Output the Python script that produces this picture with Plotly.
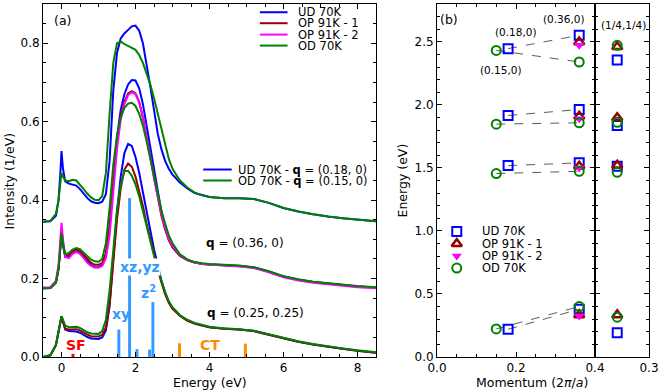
import plotly.graph_objects as go

FONT = "DejaVu Sans"
C_UD, C_OP1, C_OP2, C_OD = "#0000ff", "#990000", "#ff00ff", "#008000"
C_DD, C_SF, C_CT = "#3399ff", "#ff0000", "#ff8c00"

# ---- panel (a): RIXS spectra ----
energy = [-0.5, -0.3, -0.15, -0.08, -0.03, 0.0, 0.04, 0.1, 0.2, 0.3,
          0.4, 0.5, 0.6, 0.7, 0.8, 0.9, 1.0, 1.1, 1.2, 1.3,
          1.4, 1.5, 1.6, 1.7, 1.8, 1.9, 2.0, 2.1, 2.2, 2.3,
          2.4, 2.5, 2.6, 2.7, 2.8, 2.9, 3.0, 3.2, 3.4, 3.6,
          3.8, 4.0, 4.4, 4.8, 5.2, 5.6, 6.0, 6.4, 6.8, 7.2,
          7.6, 8.0, 8.5]

# q = (0.18,0) / (0.15,0)
top_ud = [0.345, 0.346, 0.36, 0.40, 0.47, 0.525, 0.48, 0.448, 0.442, 0.44,
          0.437, 0.428, 0.416, 0.405, 0.397, 0.393, 0.392, 0.396, 0.415, 0.50,
          0.68, 0.775, 0.812, 0.825, 0.834, 0.843, 0.845, 0.832, 0.80, 0.75,
          0.69, 0.63, 0.57, 0.53, 0.50, 0.48, 0.465, 0.445, 0.43, 0.418,
          0.412, 0.408, 0.405, 0.405, 0.403, 0.393, 0.38, 0.371, 0.364, 0.358,
          0.354, 0.35, 0.346]
top_od = [0.345, 0.347, 0.365, 0.40, 0.445, 0.469, 0.46, 0.45, 0.448, 0.452,
          0.45, 0.44, 0.428, 0.416, 0.407, 0.401, 0.40, 0.41, 0.47, 0.62,
          0.75, 0.80, 0.804, 0.798, 0.792, 0.788, 0.783, 0.77, 0.75, 0.725,
          0.695, 0.66, 0.62, 0.58, 0.54, 0.505, 0.48, 0.45, 0.432, 0.419,
          0.412, 0.408, 0.405, 0.405, 0.403, 0.393, 0.38, 0.371, 0.364, 0.358,
          0.354, 0.35, 0.346]

# q = (0.36,0)
mid_ud = [0.175, 0.176, 0.19, 0.225, 0.28, 0.32, 0.285, 0.255, 0.255, 0.265,
          0.27, 0.265, 0.255, 0.243, 0.234, 0.229, 0.229, 0.235, 0.26, 0.33,
          0.45, 0.56, 0.63, 0.67, 0.695, 0.706, 0.705, 0.685, 0.645, 0.59,
          0.53, 0.47, 0.415, 0.37, 0.33, 0.30, 0.28, 0.258, 0.247, 0.241,
          0.238, 0.236, 0.234, 0.232, 0.228, 0.218, 0.205, 0.197, 0.191, 0.187,
          0.184, 0.18, 0.177]
mid_op1 = [0.175, 0.176, 0.19, 0.225, 0.28, 0.323, 0.29, 0.258, 0.26, 0.27,
           0.274, 0.27, 0.26, 0.249, 0.24, 0.235, 0.235, 0.24, 0.265, 0.335,
           0.45, 0.55, 0.615, 0.65, 0.672, 0.678, 0.672, 0.65, 0.61, 0.56,
           0.505, 0.45, 0.40, 0.36, 0.325, 0.298, 0.28, 0.258, 0.247, 0.241,
           0.238, 0.236, 0.234, 0.232, 0.228, 0.218, 0.205, 0.197, 0.191, 0.187,
           0.184, 0.18, 0.177]
mid_op2 = [0.177, 0.178, 0.195, 0.235, 0.30, 0.342, 0.30, 0.255, 0.252, 0.263,
           0.268, 0.263, 0.252, 0.24, 0.232, 0.228, 0.228, 0.232, 0.252, 0.31,
           0.42, 0.53, 0.605, 0.645, 0.668, 0.675, 0.67, 0.65, 0.612, 0.565,
           0.51, 0.455, 0.405, 0.365, 0.33, 0.302, 0.283, 0.26, 0.248, 0.241,
           0.237, 0.235, 0.233, 0.231, 0.227, 0.216, 0.203, 0.195, 0.189, 0.185,
           0.182, 0.178, 0.175]
mid_od = [0.175, 0.176, 0.19, 0.225, 0.28, 0.316, 0.29, 0.262, 0.265, 0.274,
          0.278, 0.275, 0.266, 0.256, 0.248, 0.244, 0.243, 0.25, 0.29, 0.38,
          0.49, 0.565, 0.61, 0.635, 0.646, 0.648, 0.64, 0.62, 0.59, 0.55,
          0.505, 0.46, 0.415, 0.375, 0.34, 0.31, 0.29, 0.262, 0.249, 0.242,
          0.239, 0.237, 0.235, 0.233, 0.229, 0.219, 0.206, 0.198, 0.192, 0.188,
          0.185, 0.181, 0.178]

# q = (0.25,0.25)
bot_ud = [0.0, 0.004, 0.03, 0.065, 0.092, 0.103, 0.09, 0.07, 0.066, 0.066,
          0.065, 0.062, 0.056, 0.051, 0.047, 0.046, 0.046, 0.05, 0.068, 0.13,
          0.25, 0.37, 0.46, 0.52, 0.543, 0.538, 0.51, 0.47, 0.42, 0.37,
          0.32, 0.275, 0.235, 0.195, 0.165, 0.14, 0.125, 0.105, 0.093, 0.085,
          0.08, 0.076, 0.072, 0.07, 0.066, 0.057, 0.047, 0.039, 0.032, 0.026,
          0.021, 0.016, 0.011]
bot_op1 = [0.0, 0.004, 0.03, 0.065, 0.093, 0.104, 0.09, 0.072, 0.07, 0.071,
           0.071, 0.068, 0.062, 0.057, 0.053, 0.052, 0.052, 0.057, 0.075, 0.135,
           0.245, 0.35, 0.43, 0.478, 0.493, 0.485, 0.46, 0.425, 0.385, 0.34,
           0.30, 0.26, 0.225, 0.19, 0.16, 0.138, 0.123, 0.105, 0.093, 0.085,
           0.08, 0.076, 0.072, 0.07, 0.066, 0.057, 0.047, 0.039, 0.032, 0.026,
           0.021, 0.016, 0.011]
bot_od = [0.0, 0.005, 0.032, 0.068, 0.094, 0.104, 0.095, 0.08, 0.076, 0.077,
          0.077, 0.074, 0.068, 0.063, 0.06, 0.059, 0.059, 0.066, 0.095, 0.17,
          0.28, 0.375, 0.44, 0.474, 0.475, 0.462, 0.44, 0.41, 0.372, 0.333,
          0.295, 0.258, 0.225, 0.192, 0.165, 0.142, 0.127, 0.107, 0.095, 0.087,
          0.081, 0.077, 0.073, 0.071, 0.067, 0.058, 0.048, 0.04, 0.033, 0.027,
          0.022, 0.017, 0.012]

# calculated excitations (sticks)
dd_energy = [1.55, 1.84, 2.04, 2.38, 2.47]
dd_height = [0.07, 0.405, 0.02, 0.019, 0.14]
sf_energy = [0.31]
sf_height = [0.008]
ct_energy = [3.19, 4.97]
ct_height = [0.035, 0.034]

# ---- panel (b): peak energies (eV), four features each ----
q_ud = [0.18, 0.36]
q_od = [0.15, 0.36]
q_op = 0.36
q_diag = 0.25
ud_a = [0.22, 1.518, 1.916, 2.446]    # UD at (0.18,0)
ud_b = [0.379, 1.54, 1.963, 2.552]    # UD at (0.36,0)
op1_b = [0.334, 1.513, 1.91, 2.498]
op2_b = [0.326, 1.50, 1.889, 2.472]
od_a = [0.223, 1.455, 1.847, 2.432]   # OD at (0.15,0)
od_b = [0.40, 1.473, 1.858, 2.34]
ud_d = [0.193, 1.513, 1.836, 2.355]   # (1/4,1/4)
op1_d = [0.334, 1.52, 1.897, 2.46]
od_d = [0.316, 1.465, 1.862, 2.472]

fig = go.Figure()

# sticks
for xs, hs, col in [(dd_energy, dd_height, C_DD), (sf_energy, sf_height, C_SF),
                    (ct_energy, ct_height, C_CT)]:
    fig.add_trace(go.Bar(x=xs, y=hs, width=0.08, marker_color=col,
                         marker_line_width=0, showlegend=False,
                         xaxis="x", yaxis="y"))

spectra = [(top_ud, C_UD), (top_od, C_OD),
           (mid_ud, C_UD), (mid_op1, C_OP1), (mid_op2, C_OP2), (mid_od, C_OD),
           (bot_ud, C_UD), (bot_op1, C_OP1), (bot_od, C_OD)]
for ys, col in spectra:
    fig.add_trace(go.Scatter(x=energy, y=ys, mode="lines",
                             line=dict(color=col, width=2),
                             showlegend=False, xaxis="x", yaxis="y"))

# dashed guides in (b)
dash_line = dict(color="#333333", width=0.8, dash="dash")
for i in range(4):
    fig.add_trace(go.Scatter(x=q_ud, y=[ud_a[i], ud_b[i]], mode="lines",
                             line=dash_line, showlegend=False,
                             xaxis="x2", yaxis="y2"))
    fig.add_trace(go.Scatter(x=q_od, y=[od_a[i], od_b[i]], mode="lines",
                             line=dash_line, showlegend=False,
                             xaxis="x2", yaxis="y2"))

m_ud = dict(symbol="square-open", size=9, color=C_UD, line=dict(width=2))
m_op1 = dict(symbol="triangle-up-open", size=9, color=C_OP1, line=dict(width=2.5))
m_op2 = dict(symbol="triangle-down", size=9, color=C_OP2)
m_od = dict(symbol="circle-open", size=9, color=C_OD, line=dict(width=2))

fig.add_trace(go.Scatter(x=[q_ud[0]] * 4 + [q_ud[1]] * 4, y=ud_a + ud_b,
                         mode="markers", marker=m_ud, showlegend=False,
                         xaxis="x2", yaxis="y2"))
fig.add_trace(go.Scatter(x=[q_op] * 4, y=op1_b, mode="markers", marker=m_op1,
                         showlegend=False, xaxis="x2", yaxis="y2"))
fig.add_trace(go.Scatter(x=[q_op] * 4, y=op2_b, mode="markers", marker=m_op2,
                         showlegend=False, xaxis="x2", yaxis="y2"))
fig.add_trace(go.Scatter(x=[q_od[0]] * 4 + [q_od[1]] * 4, y=od_a + od_b,
                         mode="markers", marker=m_od, showlegend=False,
                         xaxis="x2", yaxis="y2"))
for ys, mk in [(ud_d, m_ud), (op1_d, m_op1), (od_d, m_od)]:
    fig.add_trace(go.Scatter(x=[q_diag] * 4, y=ys, mode="markers", marker=mk,
                             showlegend=False, xaxis="x3", yaxis="y3"))

# hand-made legend for (b)
leg_b_y = [0.996, 0.899, 0.802, 0.705]
leg_b_names = ["UD 70K", "OP 91K - 1", "OP 91K - 2", "OD 70K"]
for yy, mk, name in zip(leg_b_y, [m_ud, m_op1, m_op2, m_od], leg_b_names):
    fig.add_trace(go.Scatter(x=[0.05], y=[yy], mode="markers", marker=mk,
                             showlegend=False, xaxis="x2", yaxis="y2"))
    fig.add_annotation(x=0.108, y=yy, xref="x2", yref="y2", text=name,
                       showarrow=False, xanchor="left", font=dict(size=11.5))

# hand-made legends for (a)
shapes = []
leg_top_y = [0.879, 0.851, 0.822, 0.794]
for yy, col, name in zip(leg_top_y, [C_UD, C_OP1, C_OP2, C_OD], leg_b_names):
    shapes.append(dict(type="line", xref="x", yref="y", x0=5.36, x1=6.11,
                       y0=yy, y1=yy, line=dict(color=col, width=2)))
    fig.add_annotation(x=6.35, y=yy, xref="x", yref="y", text=name,
                       showarrow=False, xanchor="left", font=dict(size=11.5))
leg_mid = [(0.478, C_UD, "UD 70K - <b>q</b> = (0.18, 0)"),
           (0.450, C_OD, "OD 70K - <b>q</b> = (0.15, 0)")]
for yy, col, name in leg_mid:
    shapes.append(dict(type="line", xref="x", yref="y", x0=3.83, x1=4.6,
                       y0=yy, y1=yy, line=dict(color=col, width=2)))
    fig.add_annotation(x=4.71, y=yy, xref="x", yref="y", text=name,
                       showarrow=False, xanchor="left", font=dict(size=11.5))

# labels in (a)
fig.add_annotation(x=0.03, y=0.857, xref="x", yref="y", text="(a)",
                   showarrow=False, font=dict(size=12.5))
fig.add_annotation(x=6.08, y=0.29, xref="x", yref="y", text="<b>q</b> = (0.36, 0)",
                   showarrow=False, xanchor="right", font=dict(size=12))
fig.add_annotation(x=6.62, y=0.112, xref="x", yref="y",
                   text="<b>q</b> = (0.25, 0.25)",
                   showarrow=False, xanchor="right", font=dict(size=12))
for txt, xx, yy, col, bg in [("xy", 1.6, 0.109, C_DD, "rgba(0,0,0,0)"),
                             ("xz,yz", 2.11, 0.23, C_DD, "white"),
                             ("z<sup>2</sup>", 2.36, 0.165, C_DD, "rgba(0,0,0,0)"),
                             ("SF", 0.4, 0.03, C_SF, "rgba(0,0,0,0)"),
                             ("CT", 4.0, 0.03, C_CT, "rgba(0,0,0,0)")]:
    fig.add_annotation(x=xx, y=yy, xref="x", yref="y", text=f"<b>{txt}</b>",
                       showarrow=False, bgcolor=bg, borderpad=0,
                       font=dict(size=14, color=col))

# labels in (b)
for txt, xx, yy, xr in [("(b)", 0.03, 2.68, "x2"), ("(0.18,0)", 0.2, 2.58, "x2"),
                        ("(0.36,0)", 0.322, 2.68, "x2"),
                        ("(0.15,0)", 0.163, 2.276, "x2"),
                        ("(1/4,1/4)", 0.2606, 2.63, "x3")]:
    fig.add_annotation(x=xx, y=yy, xref=xr, yref="y2", text=txt, showarrow=False,
                       font=dict(size=12.5 if txt == "(b)" else 10.5))

# axis titles
for txt, xx, yy, ang in [("Energy (eV)", 0.2748, -0.071, 0),
                         ("Momentum (2<i>π</i>/<i>a</i>)", 0.807, -0.071, 0),
                         ("Intensity (1/eV)", -0.0545, 0.5, -90),
                         ("Energy (eV)", 0.594, 0.5, -90)]:
    fig.add_annotation(x=xx, y=yy, xref="paper", yref="paper", text=txt,
                       xanchor="center", yanchor="middle",
                       showarrow=False, textangle=ang, font=dict(size=12.5))

ax = dict(showline=True, linecolor="black", linewidth=1, mirror="allticks",
          ticks="inside", ticklen=5, tickcolor="black", showgrid=False,
          zeroline=False, tickfont=dict(size=12, color="black"))

fig.update_layout(
    width=664, height=392,
    margin=dict(l=43, r=15, t=4, b=35),
    paper_bgcolor="white", plot_bgcolor="white",
    font=dict(family=FONT, color="black"),
    showlegend=False, barmode="overlay",
    shapes=shapes,
    xaxis=dict(ax, domain=[0, 0.5495], range=[-0.5, 8.5], tick0=0, dtick=2,
               minor=dict(tick0=0, dtick=0.5, ticks="inside", ticklen=3,
                          tickcolor="black"), anchor="y"),
    yaxis=dict(ax, domain=[0, 1], range=[0, 0.9], tick0=0, dtick=0.2,
               tickformat=".1f",
               minor=dict(tick0=0, dtick=0.05, ticks="inside", ticklen=3,
                          tickcolor="black"), anchor="x"),
    xaxis2=dict(ax, domain=[0.6502, 0.9109], range=[0, 0.4], tick0=0, dtick=0.2,
                tickformat=".1f",
                minor=dict(tick0=0, dtick=0.05, ticks="inside", ticklen=3,
                           tickcolor="black"), anchor="y2"),
    yaxis2=dict(ax, domain=[0, 1], range=[0, 2.8], tick0=0, dtick=0.5,
                tickformat=".1f",
                minor=dict(tick0=0, dtick=0.1, ticks="inside", ticklen=3,
                           tickcolor="black"), anchor="x2"),
    xaxis3=dict(ax, domain=[0.9109, 1.0], range=[0.215, 0.3], tickmode="array",
                tickvals=[0.3], ticktext=["0.3"], anchor="y3"),
    yaxis3=dict(ax, domain=[0, 1], range=[0, 2.8], tick0=0, dtick=0.5,
                showticklabels=False, matches="y2",
                minor=dict(tick0=0, dtick=0.1, ticks="inside", ticklen=3,
                           tickcolor="black"), anchor="x3"),
)

fig.write_html("out.html", config={"displayModeBar": False},
               post_script="document.body.style.margin='0px';")
